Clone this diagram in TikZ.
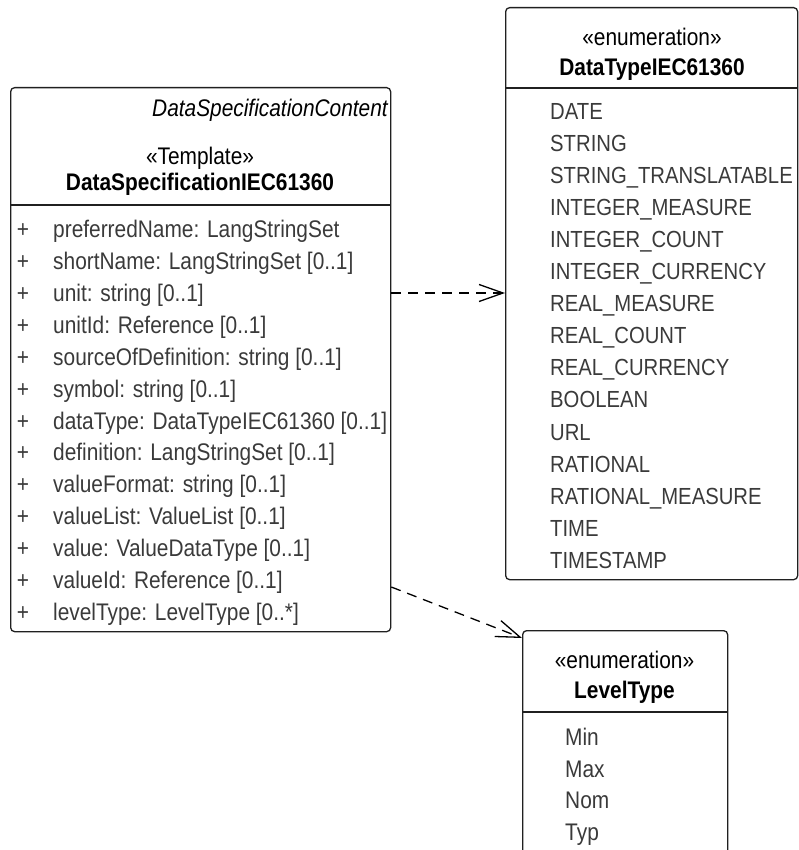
\documentclass[tikz,border=0pt]{standalone}
\usepackage{fontspec}
\setmainfont{Liberation Sans}[FakeStretch=0.87]
\usetikzlibrary{arrows.meta}
\definecolor{itemgray}{HTML}{3A3A3A}
\definecolor{linegray}{HTML}{202020}
\tikzset{
  umlbox/.style={draw=linegray, line width=1.3pt, rounded corners=4pt, inner sep=0pt, anchor=north west},
  sepline/.style={draw=linegray, line width=1.3pt},
  txt/.style={font=\fontsize{24}{28}\selectfont, inner sep=0pt, text=black},
  item/.style={txt, text=itemgray, anchor=base west},
  enumitem/.style={item, font=\fontsize{23.3}{28}\selectfont},
  plus/.style={txt, text=itemgray, anchor=base},
  hdr/.style={txt, anchor=base},
  dep/.style={draw=black, line width=1.3pt, dash pattern=on 10pt off 7pt,
    -{Straight Barb[length=24pt, width=17pt, line width=1.3pt]}}
}
\begin{document}
\begin{tikzpicture}[x=1pt, y=-1pt]
\useasboundingbox (0,0) rectangle (798,850);

% ---------- DataSpecificationIEC61360 ----------
\node[umlbox, minimum width=380pt, minimum height=544pt] (ds) at (10,87) {};
\draw[sepline] (ds.west |- 0,205) -- (ds.east |- 0,205);
\node[txt, anchor=base east, font=\fontsize{24}{28}\selectfont\itshape] (dsc) at (388,116.5) {DataSpecificationContent};
\node[hdr] (dst) at (200,164.5) {«Template»};
\node[hdr, font=\fontsize{24}{28}\selectfont\bfseries] (dsn) at (200,191) {DataSpecificationIEC61360};
\foreach \t [count=\i from 0] in {
  preferredName: LangStringSet,
  shortName: LangStringSet [0..1],
  unit: string [0..1],
  unitId: Reference [0..1],
  sourceOfDefinition: string [0..1],
  symbol: string [0..1],
  dataType: DataTypeIEC61360 [0..1],
  definition: LangStringSet [0..1],
  valueFormat: string [0..1],
  valueList: ValueList [0..1],
  value: ValueDataType [0..1],
  valueId: Reference [0..1],
  levelType: LevelType [0..*]}{
  \node[plus] (p\i) at (23, 237.5+\i*31.92) {+};
  \node[item] (a\i) at (53, 237.5+\i*31.92) {\t};
}

% ---------- DataTypeIEC61360 ----------
\node[umlbox, minimum width=292pt, minimum height=572pt] (dt) at (505,7) {};
\draw[sepline] (dt.west |- 0,88) -- (dt.east |- 0,88);
\node[hdr] (dte) at (652,46) {«enumeration»};
\node[hdr, font=\fontsize{24}{28}\selectfont\bfseries] (dtn) at (652,75.5) {DataTypeIEC61360};
\foreach \t [count=\i from 0] in {DATE, STRING, STRING\_TRANSLATABLE, INTEGER\_MEASURE,
  INTEGER\_COUNT, INTEGER\_CURRENCY, REAL\_MEASURE, REAL\_COUNT, REAL\_CURRENCY,
  BOOLEAN, URL, RATIONAL, RATIONAL\_MEASURE, TIME, TIMESTAMP}{
  \node[enumitem] (e\i) at (550, 119.5+\i*32.05) {\t};
}

% ---------- LevelType ----------
\node[umlbox, minimum width=205pt, minimum height=240pt] (lt) at (522,630) {};
\draw[sepline] (lt.west |- 0,712) -- (lt.east |- 0,712);
\node[hdr] (lte) at (624.5,668) {«enumeration»};
\node[hdr, font=\fontsize{24}{28}\selectfont\bfseries] (ltn) at (624.5,698) {LevelType};
\foreach \t [count=\i from 0] in {Min, Max, Nom, Typ}{
  \node[item] (l\i) at (565, 745.5+\i*31.7) {\t};
}

% ---------- connectors ----------
\coordinate (r1) at (0,293);
\coordinate (r2) at (0,587);
\coordinate (r3) at (0,638);
\draw[dep] (ds.east |- r1) -- (dt.west |- r1);
\draw[dep] (ds.east |- r2) -- (lt.west |- r3);
\end{tikzpicture}
\end{document}
